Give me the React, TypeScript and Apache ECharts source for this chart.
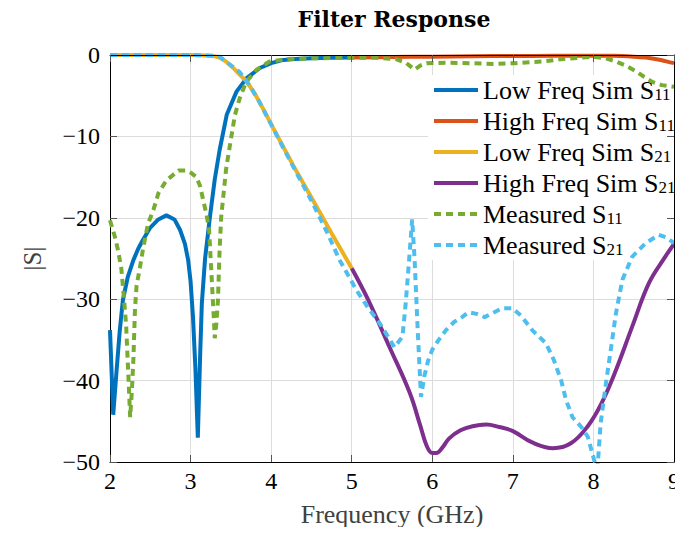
import React, { useEffect, useRef } from "react";
import * as echarts from "echarts";

const FONT = "Liberation Serif";

const xTicks = [2, 3, 4, 5, 6, 7, 8, 9];
const yTicks = [-50, -40, -30, -20, -10, 0];

const seriesNames = [
  "Low Freq Sim S11",
  "High Freq Sim S11",
  "Low Freq Sim S21",
  "High Freq Sim S21",
  "Measured S11",
  "Measured S21",
];
const seriesColors = ["#0072BD", "#D95319", "#EDB120", "#7E2F8E", "#77AC30", "#4DBEEE"];

const lowSimS11Freq = [2.0, 2.04, 2.08, 2.12, 2.16, 2.22, 2.29, 2.35, 2.41, 2.5, 2.6, 2.7, 2.8, 2.87, 2.93, 2.97, 3.0, 3.03, 3.06, 3.09, 3.12, 3.14, 3.18, 3.24, 3.3, 3.36, 3.45, 3.57, 3.7, 3.86, 4.0, 4.15, 4.3, 4.5, 4.75, 5.0];
const lowSimS11Db = [-33.8, -44.2, -39, -34, -30.1, -27.3, -25.2, -23.8, -22.7, -21.2, -20.2, -19.7, -20.2, -21.5, -23.2, -25.2, -27.8, -32.2, -38.5, -47.0, -36.5, -30.5, -25, -19.9, -15.3, -11.7, -7.3, -4.5, -2.8, -1.6, -1.0, -0.6, -0.5, -0.4, -0.35, -0.3];

const highSimS11Freq = [5.0, 5.5, 6.0, 6.5, 7.0, 7.5, 8.0, 8.25, 8.5, 8.65, 8.75, 8.85, 8.95, 9.0];
const highSimS11Db = [-0.3, -0.25, -0.2, -0.15, -0.12, -0.1, -0.08, -0.1, -0.2, -0.3, -0.45, -0.65, -0.9, -1.0];

const lowSimS21Freq = [2.0, 2.5, 3.0, 3.2, 3.3, 3.36, 3.44, 3.52, 3.6, 3.7, 3.8, 3.9, 4.0, 4.07, 4.27, 4.5, 4.75, 5.0];
const lowSimS21Db = [0, 0, 0, -0.05, -0.15, -0.3, -0.8, -1.5, -2.3, -3.3, -4.8, -6.6, -8.5, -9.8, -13.5, -17.5, -21.9, -26.2];

const highSimS21Freq = [5.0, 5.2, 5.47, 5.72, 5.85, 5.93, 6.0, 6.05, 6.12, 6.21, 6.35, 6.5, 6.67, 6.83, 7.0, 7.24, 7.5, 7.72, 7.93, 8.1, 8.28, 8.48, 8.69, 8.89, 9.0];
const highSimS21Db = [-26.2, -30, -35.9, -41.5, -45.5, -48.0, -48.9, -48.9, -48.3, -47.1, -46.1, -45.6, -45.4, -45.7, -46.2, -47.6, -48.3, -47.7, -45.6, -42.8, -38.7, -33.4, -28, -24.8, -23.2];

const measS11Freq = [2.0, 2.06, 2.1, 2.14, 2.17, 2.2, 2.23, 2.25, 2.27, 2.29, 2.31, 2.33, 2.37, 2.41, 2.47, 2.54, 2.6, 2.7, 2.85, 2.95, 3.01, 3.07, 3.115, 3.2, 3.23, 3.25, 3.27, 3.29, 3.3, 3.32, 3.34, 3.36, 3.38, 3.41, 3.44, 3.47, 3.51, 3.55, 3.61, 3.69, 3.82, 3.98, 4.2, 4.5, 5.0, 5.3, 5.55, 5.68, 5.78, 5.85, 5.93, 6.17, 6.46, 6.79, 7.04, 7.37, 7.62, 7.99, 8.15, 8.28, 8.4, 8.53, 8.63, 8.73, 8.85, 9.0];
const measS11Db = [-20.3, -22.3, -24, -26.2, -29.5, -33.2, -39.8, -44.5, -41.5, -37.5, -31.2, -28.3, -26.2, -23.8, -20.8, -19, -17, -15.4, -14.2, -14.2, -14.5, -15.0, -16.0, -19.7, -21.5, -25.2, -28.9, -32.6, -34.8, -33.0, -30.1, -24, -19.9, -17, -14.1, -12.2, -9.8, -7.4, -5.3, -3.3, -1.8, -0.8, -0.5, -0.4, -0.35, -0.35, -0.5, -1.0, -1.8, -1.3, -1.0, -0.95, -1.0, -1.1, -1.0, -0.8, -0.5, -0.2, -0.4, -0.8, -1.3, -2.0, -2.7, -3.3, -3.7, -3.9];

const measS21Freq = [2.0, 2.5, 3.0, 3.2, 3.3, 3.36, 3.45, 3.53, 3.61, 3.73, 3.84, 3.94, 4.05, 4.15, 4.3, 4.5, 4.7, 4.85, 5.06, 5.2, 5.35, 5.45, 5.53, 5.63, 5.67, 5.71, 5.75, 5.78, 5.82, 5.86, 5.9, 5.95, 6.0, 6.08, 6.17, 6.27, 6.37, 6.45, 6.55, 6.65, 6.77, 6.87, 6.99, 7.1, 7.24, 7.41, 7.51, 7.6, 7.66, 7.74, 7.85, 7.93, 8.01, 8.05, 8.09, 8.16, 8.22, 8.28, 8.36, 8.48, 8.65, 8.81, 8.9, 9.0];
const measS21Db = [0, 0, 0, -0.05, -0.1, -0.2, -0.9, -1.5, -2.1, -3.7, -5.5, -7.4, -9.5, -11.4, -14.2, -17.9, -21.9, -25.2, -28.9, -31.0, -33.0, -34.6, -35.9, -34.6, -30.5, -25.5, -20.2, -25.0, -34.0, -42.0, -39.5, -37.5, -36.2, -35.0, -33.8, -32.8, -32.2, -31.6, -31.8, -32.2, -31.6, -31.1, -31.1, -32.0, -33.8, -35.4, -37.5, -40.0, -42.4, -44.5, -45.7, -46.9, -49.8, -50.8, -45.2, -40.0, -35.9, -31.7, -27.6, -24.8, -23.1, -22.1, -22.4, -23.1];

const seriesFreqs = [lowSimS11Freq, highSimS11Freq, lowSimS21Freq, highSimS21Freq, measS11Freq, measS21Freq];
const seriesDbs = [lowSimS11Db, highSimS11Db, lowSimS21Db, highSimS21Db, measS11Db, measS21Db];
const seriesDashed = [false, false, false, false, true, true];
const seriesSmooth = [0, 0.3, 0, 0.4, 0, 0];

const fmtMinus = (v: number) => (v < 0 ? "\u2212" + Math.abs(v) : String(v));

export default function App() {
  const ref = useRef<HTMLDivElement>(null);
  useEffect(() => {
    if (!ref.current) return;
    const chart = echarts.init(ref.current, null, { renderer: "svg" });
    const series = seriesNames.map((name, i) => ({
      name,
      type: "line",
      data: seriesFreqs[i].map((f, j) => [f, seriesDbs[i][j]]),
      showSymbol: false,
      symbol: "none",
      smooth: seriesSmooth[i],
      clip: true,
      z: 2 + i * 0.01,
      color: seriesColors[i],
      lineStyle: {
        color: seriesColors[i],
        width: 4,
        type: seriesDashed[i] ? [7, 5] : "solid",
        cap: "butt",
      },
      emphasis: { disabled: true },
    }));
    const tickStyle = { show: true, inside: true, length: 7, lineStyle: { color: "#555", width: 1 } };
    chart.setOption({
      animation: false,
      backgroundColor: "#fff",
      textStyle: { fontFamily: FONT },
      grid: { left: 110, right: 8, top: 55, bottom: 73 },
      graphic: [
        {
          type: "text",
          x: 394,
          y: 19,
          style: {
            text: "Filter Response",
            textAlign: "center",
            textVerticalAlign: "middle",
            font: "bold 22px DejaVu Serif",
            fill: "#000",
          },
        },
      ],
      legend: {
        data: seriesNames,
        orient: "vertical",
        left: 428,
        top: 75,
        padding: [2, 2, 2, 4],
        itemWidth: 44,
        itemHeight: 14,
        itemGap: 5,
        backgroundColor: "#fff",
        z: 1,
        selectedMode: false,
        itemStyle: { opacity: 0, borderWidth: 0 },
        lineStyle: { width: 4 },
        formatter: (name: string) => {
          const m = name.match(/^(.*S)(\d+)$/);
          return m ? `{m|${m[1]}}{s|${m[2]}}` : `{m|${name}}`;
        },
        textStyle: {
          fontFamily: FONT,
          color: "#000",
          rich: {
            m: { fontSize: 26, lineHeight: 26, fontFamily: FONT, color: "#000" },
            s: { fontSize: 17, lineHeight: 10, verticalAlign: "bottom", fontFamily: FONT, color: "#000" },
          },
        },
      },
      xAxis: [
        {
          type: "value",
          min: xTicks[0],
          max: xTicks[xTicks.length - 1],
          interval: 1,
          position: "bottom",
          axisLine: { show: true, onZero: false, lineStyle: { color: "#000", width: 1 } },
          axisTick: tickStyle,
          splitLine: { show: true, lineStyle: { color: "#dcdcdc", width: 1 } },
          axisLabel: { fontFamily: FONT, fontSize: 24, color: "#000", margin: 7 },
          name: "Frequency (GHz)",
          nameLocation: "middle",
          nameGap: 39,
          nameTextStyle: { fontFamily: FONT, fontSize: 26, color: "#404040" },
        },
        {
          type: "value",
          min: xTicks[0],
          max: xTicks[xTicks.length - 1],
          interval: 1,
          position: "top",
          z: 3,
          axisLine: { show: true, onZero: false, lineStyle: { color: "#000", width: 1 } },
          axisTick: tickStyle,
          splitLine: { show: false },
          axisLabel: { show: false },
        },
      ],
      yAxis: [
        {
          type: "value",
          min: yTicks[0],
          max: yTicks[yTicks.length - 1],
          interval: 10,
          position: "left",
          axisLine: { show: true, onZero: false, lineStyle: { color: "#000", width: 1 } },
          axisTick: tickStyle,
          splitLine: { show: true, lineStyle: { color: "#dcdcdc", width: 1 } },
          axisLabel: { fontFamily: FONT, fontSize: 24, color: "#000", margin: 10, formatter: fmtMinus },
          name: "|S|",
          nameLocation: "middle",
          nameGap: 65,
          nameTextStyle: { fontFamily: FONT, fontSize: 25, color: "#404040" },
        },
        {
          type: "value",
          min: yTicks[0],
          max: yTicks[yTicks.length - 1],
          interval: 10,
          position: "right",
          z: 3,
          axisLine: { show: true, onZero: false, lineStyle: { color: "#000", width: 1 } },
          axisTick: tickStyle,
          splitLine: { show: false },
          axisLabel: { show: false },
        },
      ],
      series,
    });
    return () => chart.dispose();
  }, []);
  return <div ref={ref} style={{ width: 683, height: 535, margin: -8 }} />;
}
